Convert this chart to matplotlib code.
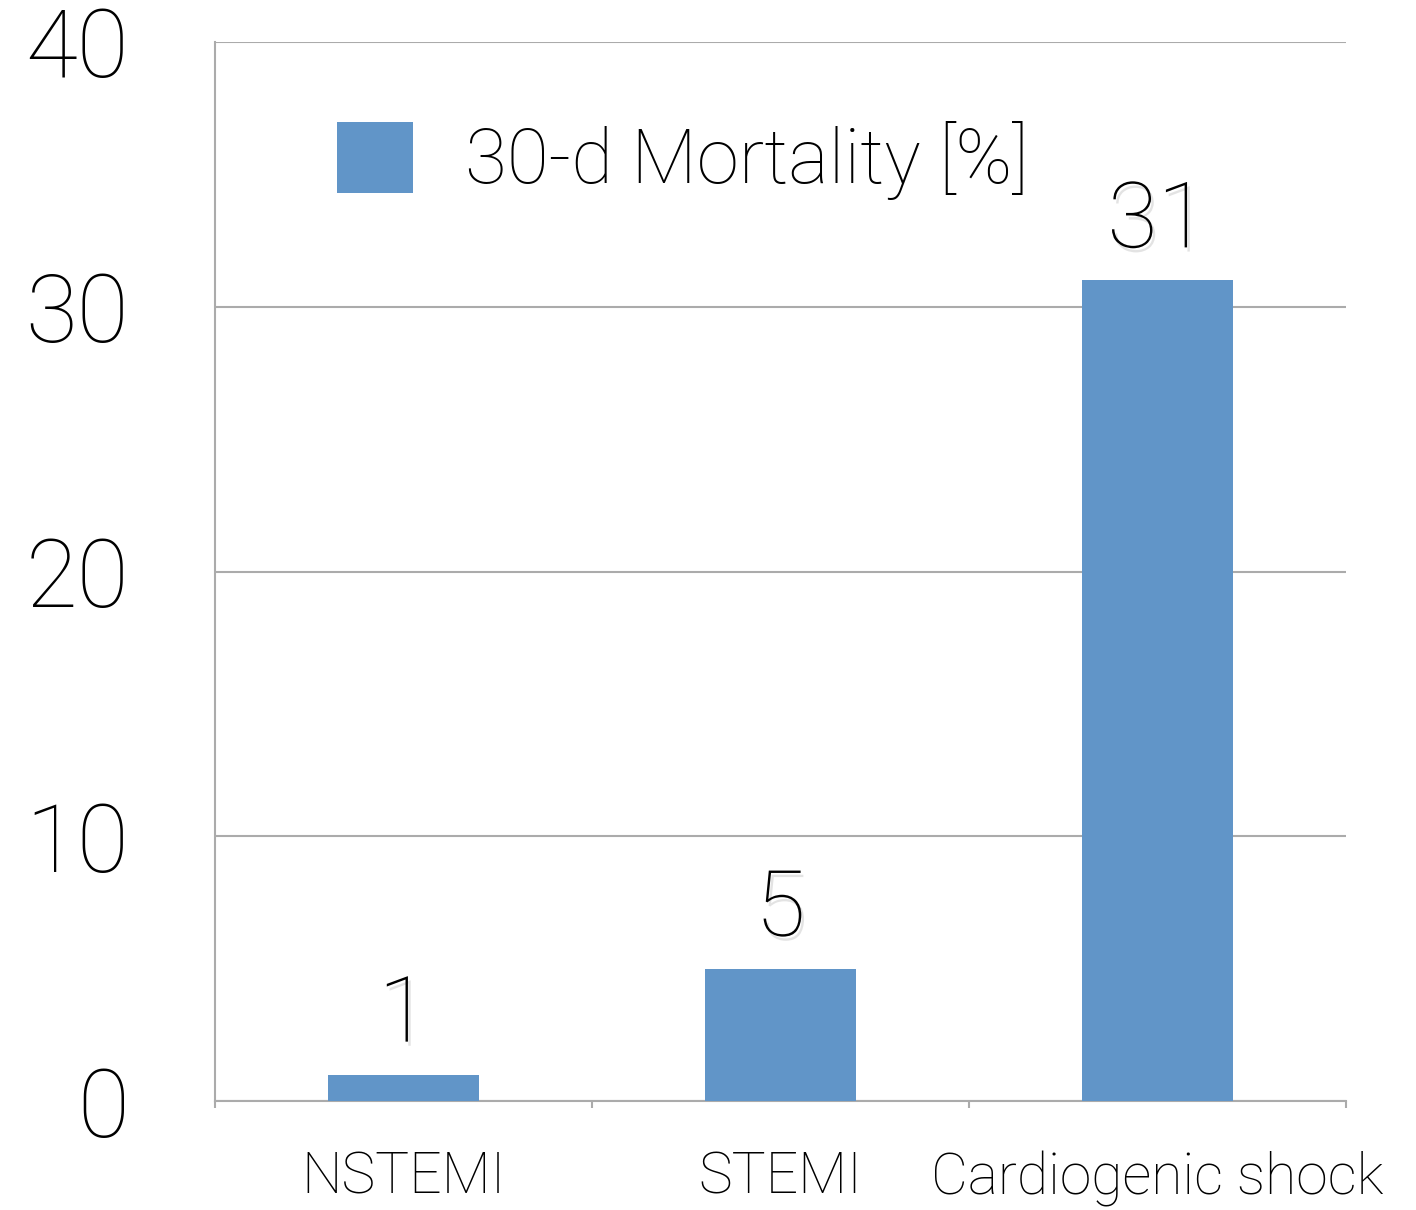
import matplotlib
matplotlib.use('Agg')

import matplotlib.pyplot as plt
import matplotlib.patheffects as pe

categories = ['NSTEMI', 'STEMI', 'Cardiogenic shock']
mortality = [1, 5, 31]
series_name = '30-d Mortality [%]'
y_ticks = [0, 10, 20, 30, 40]

plt.rcParams['font.family'] = ['Roboto', 'DejaVu Sans']
plt.rcParams['font.weight'] = 'light'

bar_color = '#6195c8'
grid_color = '#ababab'

fig = plt.figure(figsize=(14.16, 12.10), dpi=100)
ax = fig.add_axes([215 / 1416, 1 - 1101 / 1210, 1131 / 1416, 1059 / 1210])

x = range(len(categories))
bars = ax.bar(x, mortality, width=0.4, color=bar_color, label=series_name, zorder=3)

# value labels with a soft shadow
labels = ax.bar_label(bars, padding=10, fontsize=66, fontweight='light', color='black')
for t in labels:
    t.set_path_effects([pe.withSimplePatchShadow(offset=(2, -3), shadow_rgbFace='#bbbbbb', alpha=0.4)])

ax.set_xlim(-0.5, len(categories) - 0.5)
ax.set_ylim(0, 40)
ax.set_yticks(y_ticks)
ax.tick_params(axis='y', length=0, pad=62, labelsize=68)
ax.yaxis.grid(True, color=grid_color, lw=1.5, zorder=0)

ax.set_xticks(list(x))
ax.set_xticklabels(categories)
ax.set_xticks([i - 0.5 for i in range(len(categories) + 1)], minor=True)
ax.tick_params(axis='x', which='major', length=0, pad=36, labelsize=41)
ax.tick_params(axis='x', which='minor', length=5, width=1.5, color=grid_color, direction='out')

for s in ['top', 'right']:
    ax.spines[s].set_visible(False)
for s in ['left', 'bottom']:
    ax.spines[s].set_color(grid_color)
    ax.spines[s].set_linewidth(1.5)

ax.legend(loc='upper left', bbox_to_anchor=(0.108, 0.925), frameon=False, fontsize=55,
          handlelength=0.99, handleheight=1.06, handletextpad=0.68, borderpad=0,
          borderaxespad=0)

fig.savefig('out.png', dpi=100)
